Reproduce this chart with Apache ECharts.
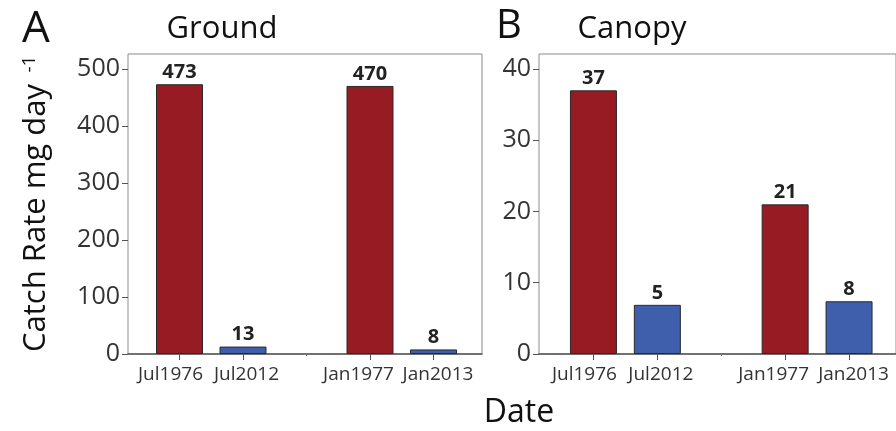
<!DOCTYPE html>
<html><head><meta charset="utf-8">
<script src="https://cdn.jsdelivr.net/npm/echarts@6/dist/echarts.min.js"></script>
<style>html,body{margin:0;padding:0;background:#fff}#c{width:896px;height:431px}</style>
</head><body><div id="c"></div>
<script>
// ---- data ----
const categories = ['Jul1976', 'Jul2012', '', 'Jan1977', 'Jan2013'];
const groundValues = [473, 13, null, 470, 8];
const groundLabels = ['473', '13', '', '470', '8'];
const canopyValues = [37, 6.9, null, 21, 7.4];
const canopyLabels = ['37', '5', '', '21', '8'];
const groundTicks = [0, 100, 200, 300, 400, 500];
const canopyTicks = [0, 10, 20, 30, 40];
const groundMax = 526;
const canopyMax = 42.1;

// ---- style ----
const FONT = 'Open Sans';
const RED = '#961b23', BLUE = '#3f5eab';
const colorFor = (i) => (parseInt(categories[i].slice(3), 10) > 2000 ? BLUE : RED);
// horizontal nudge of each category label (px) as in the original figure
const labelShift = [-9, 3.5, 0, -11.5, 4.5];
const labelRich = {};
labelShift.forEach((s, i) => {
  labelRich['c' + i] = { fontFamily: FONT, fontSize: 19, color: '#333',
    padding: [0, s < 0 ? -2 * s : 0, 0, s > 0 ? 2 * s : 0] };
});

function frameX(grid) {
  return { gridIndex: grid, type: 'category', data: [''], position: 'bottom',
    axisLine: { show: true, lineStyle: { color: '#555', width: 1.5 } },
    axisTick: { show: false }, axisLabel: { show: false }, splitLine: { show: false } };
}
function barX(grid) {
  return { gridIndex: grid, type: 'category', data: categories, position: 'bottom',
    axisLine: { show: false },
    axisTick: { show: true, alignWithLabel: true, length: 6, lineStyle: { color: '#555' },
      interval: (i) => categories[i] !== '' },
    axisLabel: { show: true, interval: 0, margin: 11, fontFamily: FONT, fontSize: 19, color: '#333',
      formatter: (v, i) => (v ? '{c' + i + '|' + v + '}' : ''), rich: labelRich },
    splitLine: { show: false } };
}
function gapX(grid) {
  return { gridIndex: grid, type: 'category', data: categories, position: 'bottom',
    axisLine: { show: false },
    axisTick: { show: true, alignWithLabel: true, length: 2, lineStyle: { color: '#777' },
      interval: (i) => categories[i] === '' },
    axisLabel: { show: false }, splitLine: { show: false } };
}
function frameY(grid, max, ticks) {
  return { gridIndex: grid, type: 'value', min: 0, max: max, position: 'left',
    axisLine: { show: false },
    axisTick: { show: true, length: 6, customValues: ticks, lineStyle: { color: '#555' } },
    axisLabel: { show: true, customValues: ticks, margin: 8, fontFamily: FONT, fontSize: 25, color: '#333' },
    splitLine: { show: false } };
}
function hiddenY(grid, max) {
  return { gridIndex: grid, type: 'value', min: 0, max: max, show: false, splitLine: { show: false } };
}
function barSeries(xi, yi, values, labels) {
  return { type: 'bar', xAxisIndex: xi, yAxisIndex: yi, data: values, barWidth: 47,
    itemStyle: { color: (p) => colorFor(p.dataIndex), borderColor: '#2a2a2a', borderWidth: 1 },
    label: { show: true, position: 'top', distance: 2, fontFamily: FONT, fontWeight: 'bold',
      fontSize: 20, color: '#222', formatter: (p) => labels[p.dataIndex] } };
}
function txt(text, x, y, size, align, rot) {
  return { type: 'text', x: x, y: y, rotation: rot || 0,
    style: { text: text, fontFamily: FONT, fontSize: size, fill: '#111',
      textAlign: align || 'center', textVerticalAlign: 'middle' } };
}

const chart = echarts.init(document.getElementById('c'));
chart.setOption({
  animation: false,
  backgroundColor: '#fff',
  grid: [
    { left: 128, top: 54, width: 354, height: 300, show: true, borderColor: '#8c8c8c', borderWidth: 1 },
    { left: 147.75, top: 54, width: 317.5, height: 300 },
    { left: 539, top: 54, width: 362, height: 300, show: true, borderColor: '#8c8c8c', borderWidth: 1 },
    { left: 561.5, top: 54, width: 319.5, height: 300 }
  ],
  xAxis: [frameX(0), barX(1), gapX(1), frameX(2), barX(3), gapX(3)],
  yAxis: [frameY(0, groundMax, groundTicks), hiddenY(1, groundMax),
          frameY(2, canopyMax, canopyTicks), hiddenY(3, canopyMax)],
  series: [barSeries(1, 1, groundValues, groundLabels), barSeries(4, 3, canopyValues, canopyLabels)],
  graphic: [
    txt('A', 22, 29, 44, 'left'),
    txt('Ground', 222, 29, 31),
    txt('B', 496, 27, 40, 'left'),
    txt('Canopy', 632, 29, 31),
    txt('Date', 519, 413, 32),
    txt('Catch Rate mg day', 36, 218, 31, 'center', Math.PI / 2),
    txt('-1', 30, 64, 19, 'center', Math.PI / 2)
  ]
});
</script></body></html>
